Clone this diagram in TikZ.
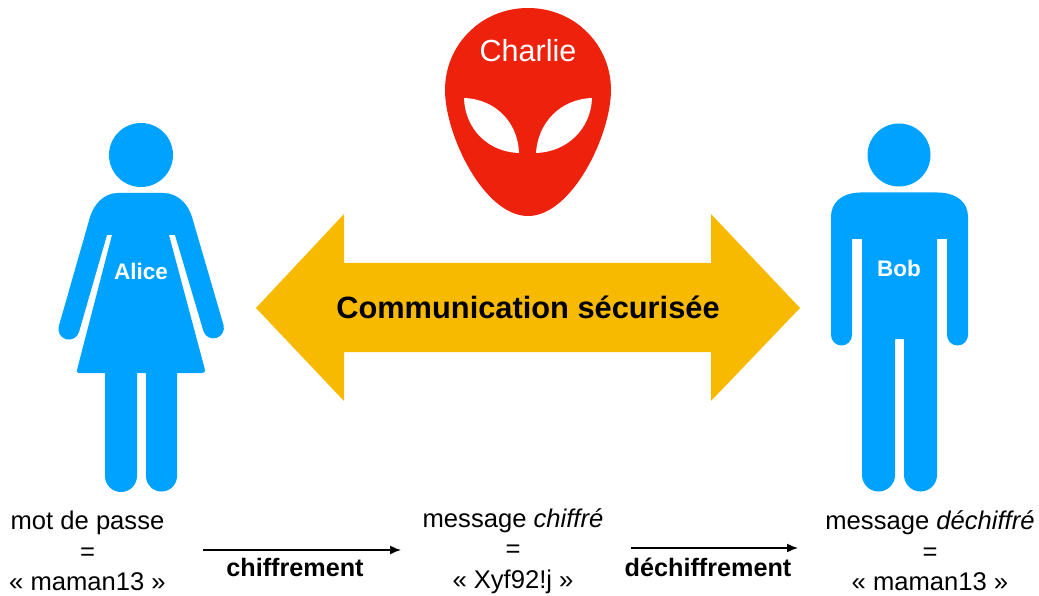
\documentclass[tikz,border=0pt]{standalone}
\usepackage{fontspec}
\setmainfont{Liberation Sans}
\usetikzlibrary{arrows.meta}
\definecolor{PersonBlue}{HTML}{00A2FF}
\definecolor{AlienRed}{HTML}{EE220C}
\definecolor{ChannelYellow}{HTML}{F7BA00}
\tikzset{
  legend/.style={align=center, font=\fontsize{25.6}{30.5}\selectfont, inner sep=0pt},
  stepname/.style={font=\fontsize{25.2}{28}\selectfont\bfseries, inner sep=0pt},
  stepline/.style={line width=1.5pt, -{Latex[length=11pt,width=9pt]}},
  badge/.style={font=\fontsize{22.5}{26}\selectfont\bfseries, text=white, inner sep=0pt},
}
\begin{document}
\begin{tikzpicture}[x=1pt,y=-1pt]
\useasboundingbox (0,0) rectangle (1039,596);
% Alice
\fill[PersonBlue] (141,155) circle[radius=32];
\fill[PersonBlue] (118,193) -- (163,193) .. controls (178,193) and (188,204) .. (192,217)
  -- (223.5,325) arc[start angle=-16, end angle=164, radius=10.5] -- (175,235) -- (169,235)
  -- (204.5,368) .. controls (205.5,372) and (204.5,373) .. (202,373) -- (177,373) -- (177,476)
  arc[start angle=0, end angle=180, radius=15.5] -- (146,373) -- (137,373) -- (137,476)
  arc[start angle=0, end angle=180, radius=16] -- (105,373) -- (80,373)
  .. controls (77,373) and (76.5,372) .. (77.5,368) -- (112,235) -- (107,235)
  -- (79,332) arc[start angle=16, end angle=196, radius=10.5] -- (90,217)
  .. controls (94,204) and (104,193) .. (118,193) -- cycle;
\node[badge] (alice) at (141,271) {Alice};
% Bob
\fill[PersonBlue] (899,155) circle[radius=31.5];
\fill[PersonBlue] (860,192.5) -- (938,192.5) .. controls (958,193) and (968,203) .. (968,217)
  -- (968,335) arc[start angle=0, end angle=180, radius=10.5] -- (947,239) -- (937,239) -- (937,475)
  arc[start angle=0, end angle=180, radius=16.5] -- (904,339) -- (895,339) -- (895,475)
  arc[start angle=0, end angle=180, radius=16.5] -- (862,239) -- (852,239) -- (852,335)
  arc[start angle=0, end angle=180, radius=10.5] -- (831,217)
  .. controls (831,203) and (841,193) .. (860,192.5) -- cycle;
\node[badge] (bob) at (899,268) {Bob};
% Charlie
\fill[AlienRed] (528,8) .. controls (575,8) and (611,45) .. (611,90)
  .. controls (611,135) and (572,216) .. (528,216)
  .. controls (484,216) and (445,135) .. (445,90)
  .. controls (445,45) and (481,8) .. (528,8) -- cycle;
\fill[white] (464,98) .. controls (495,99) and (518,122) .. (519,153)
  .. controls (488,152) and (465,129) .. (464,98) -- cycle;
\fill[white] (592,98) .. controls (561,99) and (538,122) .. (536,153)
  .. controls (567,152) and (591,129) .. (592,98) -- cycle;
\node[font=\fontsize{30.5}{34}\selectfont, text=white, inner sep=0pt] (charlie) at (528,51) {Charlie};
% double arrow
\fill[ChannelYellow] (256,308) -- (344,214) -- (344,263) -- (711,263) -- (711,214) -- (800,308)
  -- (711,401) -- (711,352) -- (344,352) -- (344,401) -- cycle;
\node[font=\fontsize{30.8}{34}\selectfont\bfseries, inner sep=0pt] (channel) at (528,307) {Communication sécurisée};
% bottom line
\node[legend] (password) at (87.5,551) {mot de passe\\=\\« maman13 »};
\node[legend] (cipher) at (513,551) {message \textit{chiffré}\\=\\« Xyf92!j »};
\node[legend] (plain) at (930,551) {message \textit{déchiffré}\\=\\« maman13 »};
%
\coordinate (cipherstart) at (203,550);
\coordinate (cipherend) at (401,550);
\coordinate (decipherstart) at (631,548);
\coordinate (decipherend) at (798,548);
\draw[stepline] (cipherstart) -- (cipherend);
\draw[stepline] (decipherstart) -- (decipherend);
\node[stepname] (ciphername) at (295,567) {chiffrement};
\node[stepname] (deciphername) at (708,567) {déchiffrement};
\end{tikzpicture}
\end{document}
